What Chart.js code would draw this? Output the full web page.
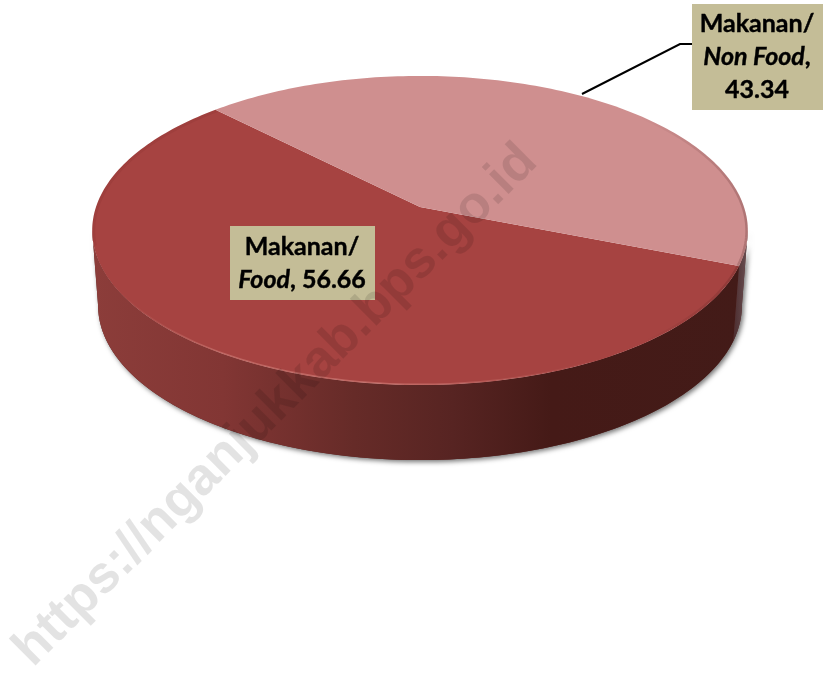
<!DOCTYPE html>
<html>
<head>
<meta charset="utf-8">
<title>Makanan / Non Food</title>
<script src="https://cdn.jsdelivr.net/npm/chart.js@4"></script>
<style>
  html, body { margin: 0; padding: 0; background: #ffffff; }
  #pieChart { display: block; }
</style>
</head>
<body>
<canvas id="pieChart" width="824" height="675"></canvas>
<script>
"use strict";

/* ---------- 1. DATA ---------- */

const categories = ["Makanan/Food", "Makanan/Non Food"];
const shares = [56.66, 43.34];
const sliceColors = ["#A64341", "#CF8F8F"];
const watermark = "https://nganjukkab.bps.go.id";

/* ---------- 2. PIE GEOMETRY (tilted disc with perspective) ---------- */

const CX = 420, CY = 207;      // where the slices meet
const RX = 324, RY = 151;
const TILT = 0.152;            // near edge looks bigger than far edge
const DEPTH = 75;
const BOTTOM_SCALE = 0.982;
const SIDE_ANGLE = Math.asin(TILT); // rim angle where the wall turns out of sight

function rimPoint(angle, lower) {
  const w = 1 - TILT * Math.sin(angle);
  let x = RX * Math.cos(angle) / w;
  let y = CY + RY * Math.sin(angle) / w;
  if (lower) {
    x *= BOTTOM_SCALE;
    y += DEPTH;
  }
  return [CX + x, y];
}

function traceRim(ctx, from, to, lower, move) {
  const steps = Math.max(2, Math.ceil(Math.abs(to - from) / 0.02));
  for (let i = 0; i <= steps; i++) {
    const p = rimPoint(from + (to - from) * i / steps, lower);
    if (i === 0 && move) ctx.moveTo(p[0], p[1]);
    else ctx.lineTo(p[0], p[1]);
  }
}

function wallGradient(ctx, index) {
  if (index === 1) {
    const g = ctx.createLinearGradient(722, 0, 748, 0);
    g.addColorStop(0, "#43201e");
    g.addColorStop(0.5, "#4f3133");
    g.addColorStop(1, "#6b5154");
    return g;
  }
  const g = ctx.createLinearGradient(92, 0, 748, 0);
  g.addColorStop(0, "#8c3d3a");
  g.addColorStop(0.2, "#823634");
  g.addColorStop(0.4, "#662b28");
  g.addColorStop(0.55, "#572422");
  g.addColorStop(0.7, "#451a17");
  g.addColorStop(1, "#431b18");
  return g;
}

function drawWalls(ctx, arcs) {
  // soft shadow under the whole disc, following the side silhouette too
  ctx.save();
  ctx.shadowColor = "rgba(0,0,0,0.55)";
  ctx.shadowBlur = 5;
  ctx.shadowOffsetX = 2;
  ctx.shadowOffsetY = 2;
  ctx.fillStyle = "#5a2522";
  ctx.beginPath();
  traceRim(ctx, SIDE_ANGLE, Math.PI - SIDE_ANGLE, true, true);
  traceRim(ctx, Math.PI - SIDE_ANGLE, SIDE_ANGLE, false, false);
  ctx.closePath();
  ctx.fill();
  ctx.restore();

  // only the front of the rim is visible; a slice can reach it after a full turn
  arcs.forEach((arc, i) => {
    [0, Math.PI * 2].forEach(turn => {
      const from = Math.max(arc.startAngle, SIDE_ANGLE + turn);
      const to = Math.min(arc.endAngle, Math.PI - SIDE_ANGLE + turn);
      if (to <= from) return;
      ctx.beginPath();
      traceRim(ctx, from, to, false, true);
      traceRim(ctx, to, from, true, false);
      ctx.closePath();
      ctx.fillStyle = wallGradient(ctx, i);
      ctx.fill();
    });
  });
}

function drawFaces(ctx, arcs) {
  arcs.forEach((arc, i) => {
    ctx.beginPath();
    ctx.moveTo(CX, CY);
    traceRim(ctx, arc.startAngle, arc.endAngle, false, false);
    ctx.closePath();
    ctx.fillStyle = sliceColors[i];
    ctx.fill();
  });

  // bevel along the rim
  ctx.save();
  ctx.beginPath();
  traceRim(ctx, 0, Math.PI * 2, false, true);
  ctx.closePath();
  ctx.clip();

  const light = ctx.createLinearGradient(120, 0, 600, 0);
  light.addColorStop(0, "rgba(255,190,180,0)");
  light.addColorStop(0.2, "rgba(255,190,180,0.28)");
  light.addColorStop(0.6, "rgba(255,190,180,0.3)");
  light.addColorStop(1, "rgba(255,190,180,0)");
  ctx.strokeStyle = light;
  ctx.lineWidth = 3;
  ctx.beginPath();
  traceRim(ctx, 0.3, Math.PI - 0.1, false, true);
  ctx.stroke();

  const dark = ctx.createLinearGradient(640, 0, 748, 0);
  dark.addColorStop(0, "rgba(60,20,20,0)");
  dark.addColorStop(1, "rgba(60,20,20,0.22)");
  ctx.strokeStyle = dark;
  ctx.lineWidth = 5;
  ctx.beginPath();
  traceRim(ctx, -0.9, 0.9, false, true);
  ctx.stroke();

  ctx.strokeStyle = "rgba(70,20,20,0.07)";
  ctx.lineWidth = 6;
  ctx.beginPath();
  traceRim(ctx, Math.PI - 0.25, Math.PI + 0.8, false, true);
  ctx.stroke();
  ctx.restore();
}

/* ---------- 3. LABELS ---------- */

const BOLD = 'bold 25px Lato, "Open Sans", sans-serif';
const BOLD_ITALIC = 'italic bold 25px Lato, "Open Sans", sans-serif';

function drawRuns(ctx, runs, centerX, baseY) {
  let total = 0;
  runs.forEach(r => {
    ctx.font = r[1];
    total += ctx.measureText(r[0]).width;
  });
  let x = centerX - total / 2;
  runs.forEach(r => {
    ctx.font = r[1];
    ctx.strokeText(r[0], x, baseY); // a little heavier, closer to the original face
    ctx.fillText(r[0], x, baseY);
    x += ctx.measureText(r[0]).width;
  });
}

function drawLabels(ctx) {
  // leader line to the Non Food box
  ctx.strokeStyle = "#000000";
  ctx.lineWidth = 2;
  ctx.beginPath();
  ctx.moveTo(582, 94);
  ctx.lineTo(680, 44);
  ctx.lineTo(692, 44);
  ctx.stroke();

  ctx.fillStyle = "#C4BD97";
  ctx.fillRect(692, 4, 131, 106);
  ctx.fillRect(230, 226, 145, 74);

  ctx.fillStyle = "#000000";
  ctx.lineWidth = 0.4;
  ctx.textAlign = "left";
  ctx.textBaseline = "alphabetic";
  drawRuns(ctx, [["Makanan/", BOLD]], 757, 32);
  drawRuns(ctx, [["Non Food", BOLD_ITALIC], [",", BOLD]], 757, 65);
  drawRuns(ctx, [["43.34", BOLD]], 757, 98);
  drawRuns(ctx, [["Makanan/", BOLD]], 302, 255);
  drawRuns(ctx, [["Food", BOLD_ITALIC], [", 56.66", BOLD]], 302, 288);
}

function drawWatermark(ctx) {
  ctx.save();
  ctx.translate(33, 668);
  ctx.rotate(-44.9 * Math.PI / 180);
  ctx.font = 'bold 52.5px "Liberation Sans", Arial, sans-serif';
  ctx.textAlign = "left";
  ctx.textBaseline = "alphabetic";
  ctx.fillStyle = "rgba(0,0,0,0.11)";
  ctx.fillText(watermark, 0, 0);
  ctx.restore();
}

/* ---------- 4. CHART ---------- */

const disc3d = {
  id: "disc3d",
  beforeDatasetDraw(chart, args) {
    const arcs = args.meta.data;
    drawWalls(chart.ctx, arcs);
    drawFaces(chart.ctx, arcs);
    return false; // flat arcs replaced by the tilted ones
  },
  afterDraw(chart) {
    drawLabels(chart.ctx);
    drawWatermark(chart.ctx);
  }
};

new Chart(document.getElementById("pieChart"), {
  type: "pie",
  data: {
    labels: categories,
    datasets: [{
      data: shares,
      backgroundColor: sliceColors,
      borderWidth: 0
    }]
  },
  options: {
    responsive: false,
    animation: false,
    rotation: 111.6,
    plugins: {
      legend: { display: false },
      tooltip: { enabled: false }
    }
  },
  plugins: [disc3d]
});
</script>
</body>
</html>
